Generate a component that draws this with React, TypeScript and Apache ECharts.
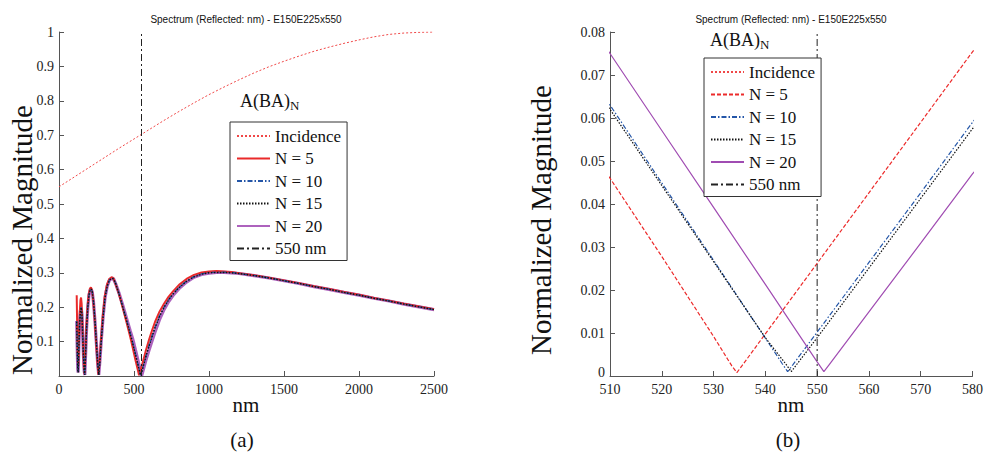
import React, { useEffect, useRef } from 'react';
import * as echarts from 'echarts';

const chartTitle = 'Spectrum (Reflected: nm) - E150E225x550';
const legendNames = ['Incidence', 'N = 5', 'N = 10', 'N = 15', 'N = 20', '550 nm'];
const leftXTicks = { min: 0, max: 2500, interval: 500 };
const leftYTicks = { min: 0, max: 1, interval: 0.1 };
const rightXTicks = { min: 510, max: 580, interval: 10 };
const rightYTicks = { min: 0, max: 0.08, interval: 0.01 };
const markerNm = 550;

const incidence = [
  [0, 0.55], [100, 0.578], [200, 0.606], [300, 0.634], [400, 0.662], [500, 0.689],
  [600, 0.716], [700, 0.743], [800, 0.769], [900, 0.794], [1000, 0.818], [1100, 0.84],
  [1200, 0.861], [1300, 0.881], [1400, 0.899], [1500, 0.915], [1600, 0.93], [1700, 0.944],
  [1800, 0.956], [1900, 0.967], [2000, 0.977], [2100, 0.986], [2200, 0.993], [2300, 0.997],
  [2400, 0.999], [2500, 1.0],
];

const n5 = [
  [118, 0.235], [121, 0.15], [125, 0.07], [129, 0.03], [133, 0.1], [138, 0.18], [143, 0.22],
  [147, 0.228], [151, 0.21], [156, 0.15], [161, 0.08], [166, 0.025], [170, 0.005], [175, 0.06],
  [182, 0.14], [190, 0.2], [198, 0.238], [206, 0.254], [213, 0.258], [220, 0.25], [228, 0.222],
  [238, 0.165], [248, 0.095], [256, 0.04], [263, 0.004], [270, 0.04], [280, 0.105], [292, 0.175],
  [305, 0.232], [320, 0.266], [335, 0.282], [350, 0.287], [362, 0.285], [375, 0.27], [400, 0.238],
  [425, 0.198], [450, 0.156], [475, 0.113], [490, 0.085], [500, 0.065], [510, 0.046],
  [520, 0.0278], [530, 0.0092], [533.5, 0.0024], [534.5, 0.0008], [535.5, 0.0024], [540, 0.0098],
  [550, 0.0262], [560, 0.0426], [570, 0.059], [580, 0.0754], [600, 0.105], [620, 0.132],
  [640, 0.157], [670, 0.187], [700, 0.21], [730, 0.23], [760, 0.246], [800, 0.265], [850, 0.282],
  [900, 0.294], [950, 0.301], [1000, 0.304], [1050, 0.305], [1100, 0.304], [1150, 0.302],
  [1200, 0.299], [1300, 0.293], [1400, 0.286], [1500, 0.278], [1600, 0.27], [1700, 0.261],
  [1800, 0.253], [1900, 0.244], [2000, 0.236], [2100, 0.227], [2200, 0.219], [2300, 0.21],
  [2400, 0.202], [2500, 0.194],
];

const n10 = [
  [118, 0.16], [121, 0.09], [125, 0.02], [128, 0.01], [132, 0.08], [137, 0.15], [143, 0.19],
  [148, 0.2], [153, 0.182], [158, 0.12], [163, 0.06], [168, 0.015], [172, 0.003], [177, 0.06],
  [184, 0.14], [192, 0.2], [200, 0.236], [208, 0.251], [215, 0.254], [222, 0.245], [230, 0.217],
  [240, 0.16], [250, 0.092], [258, 0.036], [265, 0.003], [272, 0.04], [282, 0.105], [294, 0.173],
  [307, 0.229], [322, 0.263], [337, 0.28], [352, 0.285], [364, 0.283], [378, 0.269], [400, 0.24],
  [425, 0.202], [450, 0.163], [475, 0.124], [490, 0.099], [500, 0.081], [510, 0.063],
  [520, 0.0449], [530, 0.0269], [540, 0.0088], [543.3, 0.0028], [544.3, 0.001], [545.3, 0.0026],
  [550, 0.0102], [560, 0.0264], [570, 0.0426], [580, 0.059], [600, 0.089], [620, 0.116],
  [640, 0.142], [670, 0.175], [700, 0.2], [730, 0.222], [760, 0.239], [800, 0.258], [850, 0.276],
  [900, 0.289], [950, 0.297], [1000, 0.301], [1050, 0.302], [1100, 0.302], [1150, 0.301],
  [1200, 0.298], [1300, 0.292], [1400, 0.285], [1500, 0.277], [1600, 0.269], [1700, 0.26],
  [1800, 0.252], [1900, 0.243], [2000, 0.235], [2100, 0.226], [2200, 0.218], [2300, 0.209],
  [2400, 0.201], [2500, 0.193],
];

const n15 = [
  [118, 0.158], [121, 0.088], [125, 0.019], [128, 0.01], [132, 0.078], [137, 0.148], [143, 0.189],
  [148, 0.199], [153, 0.181], [158, 0.12], [163, 0.06], [168, 0.015], [172, 0.003], [177, 0.06],
  [184, 0.14], [192, 0.2], [200, 0.236], [208, 0.251], [215, 0.253], [222, 0.244], [230, 0.216],
  [240, 0.159], [250, 0.091], [258, 0.036], [265, 0.003], [272, 0.04], [282, 0.104], [294, 0.172],
  [307, 0.228], [322, 0.262], [337, 0.279], [352, 0.284], [364, 0.282], [378, 0.268], [400, 0.239],
  [425, 0.201], [450, 0.162], [475, 0.122], [490, 0.097], [500, 0.08], [510, 0.062],
  [520, 0.0443], [530, 0.0266], [540, 0.0089], [544, 0.0027], [545, 0.001], [546, 0.0026],
  [550, 0.0089], [560, 0.0251], [570, 0.0413], [580, 0.0575], [600, 0.087], [620, 0.114],
  [640, 0.14], [670, 0.173], [700, 0.199], [730, 0.221], [760, 0.238], [800, 0.257], [850, 0.275],
  [900, 0.288], [950, 0.296], [1000, 0.3], [1050, 0.301], [1100, 0.301], [1150, 0.3],
  [1200, 0.298], [1300, 0.292], [1400, 0.285], [1500, 0.277], [1600, 0.269], [1700, 0.26],
  [1800, 0.252], [1900, 0.243], [2000, 0.235], [2100, 0.226], [2200, 0.218], [2300, 0.209],
  [2400, 0.201], [2500, 0.193],
];

const n20 = [
  [118, 0.16], [121, 0.09], [125, 0.02], [128, 0.01], [132, 0.08], [137, 0.15], [143, 0.19],
  [148, 0.198], [153, 0.18], [158, 0.12], [163, 0.06], [168, 0.015], [172, 0.003], [177, 0.06],
  [184, 0.14], [192, 0.2], [200, 0.235], [208, 0.25], [215, 0.252], [222, 0.243], [230, 0.215],
  [240, 0.158], [250, 0.09], [258, 0.035], [265, 0.003], [272, 0.04], [282, 0.105], [294, 0.172],
  [307, 0.228], [322, 0.262], [337, 0.279], [352, 0.284], [364, 0.282], [378, 0.268], [400, 0.241],
  [425, 0.206], [450, 0.168], [475, 0.131], [490, 0.11], [500, 0.093], [510, 0.075],
  [520, 0.0571], [530, 0.0392], [540, 0.0213], [550, 0.0033], [551.3, 0.001], [552.3, 0.0026],
  [560, 0.0149], [570, 0.0309], [580, 0.047], [600, 0.075], [620, 0.102], [640, 0.128],
  [670, 0.164], [700, 0.193], [730, 0.216], [760, 0.234], [800, 0.254], [850, 0.273],
  [900, 0.287], [950, 0.295], [1000, 0.299], [1050, 0.301], [1100, 0.301], [1150, 0.3],
  [1200, 0.298], [1300, 0.292], [1400, 0.285], [1500, 0.277], [1600, 0.269], [1700, 0.26],
  [1800, 0.252], [1900, 0.243], [2000, 0.235], [2100, 0.226], [2200, 0.218], [2300, 0.209],
  [2400, 0.201], [2500, 0.193],
];

const SERIF = 'Liberation Serif';
const SANS = 'Liberation Sans';

const tickRich = {
  t: { fontFamily: SERIF, fontSize: 14, color: '#222', lineHeight: 12 },
  z: { fontFamily: SERIF, fontSize: 14, color: '#222', lineHeight: 12, padding: [0, 0, 7, 0] },
};

function axisX(idx: number, t: any) {
  return {
    type: 'value', gridIndex: idx, min: t.min, max: t.max, interval: t.interval,
    axisLine: { show: true, onZero: false, lineStyle: { color: '#555', width: 1 } },
    axisTick: { show: true, inside: true, length: 5, lineStyle: { color: '#555' } },
    axisLabel: {
      fontFamily: SERIF, fontSize: 14, color: '#222', margin: 7, lineHeight: 12,
      formatter: (v: number) => `{t|${v}}`, rich: tickRich,
    },
    splitLine: { show: false },
  };
}
function axisY(idx: number, t: any, hideZero: boolean) {
  return {
    type: 'value', gridIndex: idx, min: t.min, max: t.max, interval: t.interval,
    axisLine: { show: true, onZero: false, lineStyle: { color: '#555', width: 1 } },
    axisTick: { show: true, inside: true, length: 5, lineStyle: { color: '#555' } },
    axisLabel: {
      fontFamily: SERIF, fontSize: 14, color: '#222', margin: 5, lineHeight: 12, rich: tickRich,
      formatter: (v: number) =>
        v === 0 ? (hideZero ? '' : '{z|0}') : `{t|${+v.toFixed(4)}}`,
    },
    splitLine: { show: false },
  };
}

function line(name: string, idx: number, data: any, color: string, width: number, type: any, z = 2) {
  return {
    name, type: 'line', xAxisIndex: idx, yAxisIndex: idx, data, symbol: 'none',
    showSymbol: false, clip: true, z, silent: true,
    lineStyle: { color, width, type },
    itemStyle: { color },
  };
}

function label(text: string, x: number, y: number, size: number, family: string, rotation = 0) {
  return {
    type: 'text', x, y, rotation,
    style: {
      text, fontSize: size, fontFamily: family, fill: '#111',
      textAlign: 'center', textVerticalAlign: 'middle',
    },
  };
}

export default function App() {
  const ref = useRef<HTMLDivElement>(null);
  useEffect(() => {
    document.body.style.margin = '0';
    const chart = echarts.init(ref.current!, null, { renderer: 'svg' });
    const sp = ' ';
    const legendCommon = {
      orient: 'vertical', itemWidth: 33, itemHeight: 14, itemGap: 4.5,
      padding: [5, 6, 3, 6], borderColor: '#333', borderWidth: 1, selectedMode: false,
      backgroundColor: '#fff',
      itemStyle: { opacity: 0, borderWidth: 0 },
      textStyle: {
        fontFamily: SERIF, fontSize: 17, color: '#111', lineHeight: 18,
        rich: { t: { fontFamily: SERIF, fontSize: 17, color: '#111', lineHeight: 18 } },
      },
      formatter: (n: string) => `{t|${n.trim()}}`,
    };
    const markerLeft = [[markerNm, leftYTicks.min], [markerNm, leftYTicks.max]];
    const markerRight = [[markerNm, rightYTicks.min], [markerNm, rightYTicks.max]];
    const dashDot = [7, 3, 2, 3];
    const sub = {
      a: { fontFamily: SERIF, fontSize: 18, fill: '#111', color: '#111' },
      s: { fontFamily: SERIF, fontSize: 13, fill: '#111', color: '#111', padding: [10, 0, 0, 0] },
    };
    chart.setOption({
      animation: false,
      backgroundColor: '#fff',
      textStyle: { fontFamily: SERIF },
      grid: [
        { left: 59, top: 32, width: 375, height: 344 },
        { left: 610, top: 32, width: 364, height: 344 },
      ],
      xAxis: [axisX(0, leftXTicks), axisX(1, rightXTicks)],
      yAxis: [axisY(0, leftYTicks, true), axisY(1, rightYTicks, false)],
      legend: [
        { ...legendCommon, left: 230, top: 122, data: legendNames },
        { ...legendCommon, left: 704, top: 58, data: legendNames.map((n) => n + sp) },
      ],
      series: [
        line('Incidence', 0, incidence, '#f04848', 1, [2, 2]),
        line('N = 5', 0, n5, '#ea2a2a', 2, 'solid'),
        line('N = 20', 0, n20, '#ad62bd', 3.2, 'solid', 1),
        line('N = 10', 0, n10, '#2456a8', 1.4, [5, 2, 1.5, 2], 3),
        line('N = 15', 0, n15, '#111111', 1.4, [1.5, 1.5], 3),
        line('550 nm', 0, markerLeft, '#222222', 1, dashDot, 4),
        line('Incidence' + sp, 1, incidence, '#f04848', 1, [2, 2]),
        line('N = 5' + sp, 1, n5, '#ec2b2b', 1.2, [4, 2]),
        line('N = 10' + sp, 1, n10, '#2456a8', 1.2, [5, 2, 1.5, 2]),
        line('N = 15' + sp, 1, n15, '#111111', 1.2, [1.5, 1.5]),
        line('N = 20' + sp, 1, n20, '#a04cb2', 1.2, 'solid'),
        line('550 nm' + sp, 1, markerRight, '#222222', 1, dashDot),
      ],
      graphic: [
        label(chartTitle, 246, 19, 10, SANS),
        label(chartTitle, 791, 19, 10, SANS),
        label('Normalized Magnitude', 22, 240, 29, SERIF, Math.PI / 2),
        label('Normalized Magnitude', 541, 220, 29, SERIF, Math.PI / 2),
        label('nm', 246, 405, 21, SERIF),
        label('nm', 791, 405, 21, SERIF),
        label('(a)', 242, 440, 21, SERIF),
        label('(b)', 788, 440, 21, SERIF),
        { type: 'text', x: 240, y: 112, style: { text: '{a|A(BA)}{s|N}', textVerticalAlign: 'bottom', rich: sub } },
        { type: 'text', x: 710, y: 51, style: { text: '{a|A(BA)}{s|N}', textVerticalAlign: 'bottom', rich: sub } },
      ],
    });
    return () => chart.dispose();
  }, []);
  return <div ref={ref} style={{ position: 'absolute', left: 0, top: 0, width: 986, height: 452 }} />;
}
